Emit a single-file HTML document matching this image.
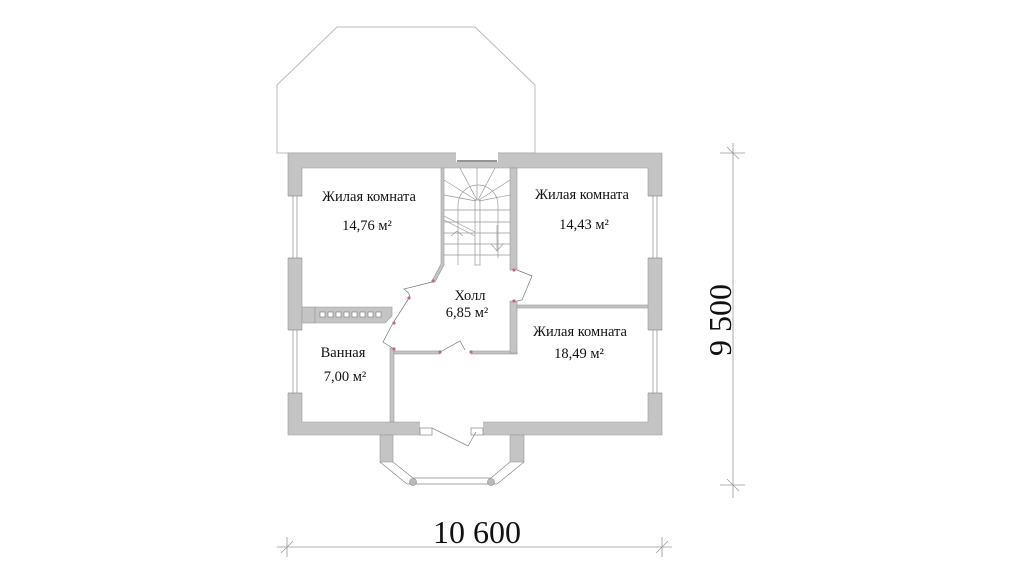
<!DOCTYPE html>
<html><head><meta charset="utf-8"><style>
html,body{margin:0;padding:0;background:#fff;width:1024px;height:588px;overflow:hidden}
svg{display:block}
text{font-family:"Liberation Serif",serif;fill:#111}
</style></head><body>
<svg width="1024" height="588" viewBox="0 0 1024 588" xmlns="http://www.w3.org/2000/svg">
<polygon points="277,153 277,85 337,27 475,27 535,85 535,153" fill="#fff" stroke="#bbb" stroke-width="1"/>
<g fill="#c4c4c4" stroke="#999" stroke-width="0.6">
<path fill-rule="evenodd" d="M288,153 H662 V435 H288 Z M302,168 V422 H648 V168 Z"/>
<path d="M441,168 H444 V265 L435,282 L432,281 L441,264 Z"/>
<rect x="510" y="168" width="7" height="102"/>
<rect x="302" y="307" width="13" height="16"/>
<polygon points="315,307 392,307 392,316 385,323 315,323"/>
<rect x="390" y="348" width="4" height="74"/>
<rect x="394" y="351" width="46" height="3"/>
<rect x="471" y="351" width="46" height="3"/>
<rect x="510" y="301" width="7" height="52"/>
<rect x="517" y="305" width="131" height="3"/>
<rect x="380" y="435" width="13" height="27"/>
<rect x="510" y="435" width="14" height="27"/>
</g>
<g fill="#fff" stroke="#777" stroke-width="0.6">
<rect x="320" y="312" width="5" height="5"/><rect x="328" y="312" width="5" height="5"/><rect x="336" y="312" width="5" height="5"/><rect x="344" y="312" width="5" height="5"/><rect x="352" y="312" width="5" height="5"/><rect x="360" y="312" width="5" height="5"/><rect x="368" y="312" width="5" height="5"/><rect x="376" y="312" width="5" height="5"/>
</g>
<g fill="#fff">
<rect x="456" y="152" width="42" height="10"/>
<rect x="287" y="196" width="16" height="62"/><rect x="287" y="330" width="16" height="63"/>
<rect x="647" y="196" width="16" height="62"/><rect x="647" y="330" width="16" height="63"/>
<rect x="420" y="421" width="63" height="15"/>
</g>
<g stroke="#888" stroke-width="0.7" fill="none">
<line x1="457" y1="161" x2="497" y2="161" stroke="#555" stroke-width="1.2"/>
<line x1="293" y1="196" x2="293" y2="258"/><line x1="297" y1="196" x2="297" y2="258"/>
<line x1="293" y1="330" x2="293" y2="393"/><line x1="297" y1="330" x2="297" y2="393"/>
<line x1="653" y1="196" x2="653" y2="258"/><line x1="657" y1="196" x2="657" y2="258"/>
<line x1="653" y1="330" x2="653" y2="393"/><line x1="657" y1="330" x2="657" y2="393"/>
<line x1="288" y1="196" x2="302" y2="196"/><line x1="288" y1="258" x2="302" y2="258"/>
<line x1="288" y1="330" x2="302" y2="330"/><line x1="288" y1="393" x2="302" y2="393"/>
<line x1="648" y1="196" x2="662" y2="196"/><line x1="648" y1="258" x2="662" y2="258"/>
<line x1="648" y1="330" x2="662" y2="330"/><line x1="648" y1="393" x2="662" y2="393"/>
<rect x="420" y="428" width="12" height="7"/><rect x="471" y="428" width="12" height="7"/>
<path d="M432,428 L468,446 L476,432"/>
<path d="M380,462 L407,484 L497,484 L524,462"/>
<path d="M393,462 L413,478 L491,478 L510,462"/>
</g>
<g fill="#bbb" stroke="#888" stroke-width="0.6">
<circle cx="413" cy="482" r="3.5"/><circle cx="491" cy="482" r="3.5"/>
</g>
<g stroke="#999" stroke-width="0.7" fill="none">
<line x1="444" y1="210" x2="510" y2="210"/>
<line x1="444" y1="222" x2="510" y2="222"/>
<line x1="444" y1="233" x2="510" y2="233"/>
<line x1="444" y1="244" x2="510" y2="244"/>
<line x1="444" y1="255" x2="510" y2="255"/>
<rect x="475" y="200" width="5" height="65"/>
<path d="M458,265 V205 A20,20 0 0 1 498,205 V258"/>
<line x1="477" y1="200" x2="460" y2="168"/>
<line x1="477" y1="200" x2="477" y2="168"/>
<line x1="478" y1="200" x2="495" y2="168"/>
<line x1="476" y1="200" x2="444" y2="180"/>
<line x1="479" y1="200" x2="510" y2="180"/>
<line x1="476" y1="201" x2="444" y2="195"/>
<line x1="479" y1="201" x2="510" y2="195"/>
<line x1="444" y1="216" x2="475" y2="232"/>
<line x1="444" y1="220" x2="475" y2="236"/>
<path d="M451,236 L457,231 L463,236"/>
<line x1="497" y1="225" x2="497" y2="251"/>
<path d="M491,244 L497,251 L503,244"/>
</g>
<g stroke="#777" stroke-width="0.7" fill="none">
<path d="M432,282 L404,289 Q412,295 409,298"/>
<path d="M409,298 L393,323 L383,342 L394,349"/>
<path d="M517,270 L532,276 L522,300 L517,301"/>
<path d="M440,352 L460,341 L465,350"/>
</g>
<g fill="#c06a80">
<circle cx="433" cy="281" r="1.6"/><circle cx="409" cy="298" r="1.6"/><circle cx="394" cy="323" r="1.6"/><circle cx="394" cy="349" r="1.6"/>
<circle cx="440" cy="352" r="1.6"/><circle cx="471" cy="352" r="1.6"/><circle cx="514" cy="270" r="1.6"/><circle cx="514" cy="301" r="1.6"/>
</g>
<g font-size="14.5" text-anchor="middle">
<text x="369" y="201">Жилая комната</text>
<text x="367" y="230">14,76 м²</text>
<text x="582" y="199">Жилая комната</text>
<text x="584" y="229">14,43 м²</text>
<text x="470" y="300">Холл</text>
<text x="467" y="317">6,85 м²</text>
<text x="580" y="336">Жилая комната</text>
<text x="579" y="358">18,49 м²</text>
<text x="343" y="357">Ванная</text>
<text x="345" y="381">7,00 м²</text>
</g>
<g stroke="#999" stroke-width="0.8">
<line x1="277" y1="547" x2="672" y2="547"/>
<line x1="287" y1="537" x2="287" y2="557"/><line x1="662" y1="537" x2="662" y2="557"/>
<line x1="281" y1="553" x2="293" y2="541"/><line x1="656" y1="553" x2="668" y2="541"/>
<line x1="733" y1="143" x2="733" y2="498"/>
<line x1="720" y1="153" x2="745" y2="153"/><line x1="720" y1="485" x2="745" y2="485"/>
<line x1="727" y1="147" x2="739" y2="159"/><line x1="727" y1="479" x2="739" y2="491"/>
</g>
<text x="477" y="543" font-size="32" text-anchor="middle">10 600</text>
<text x="0" y="0" font-size="32" text-anchor="middle" transform="translate(731,320) rotate(-90)">9 500</text>
</svg>
</body></html>
